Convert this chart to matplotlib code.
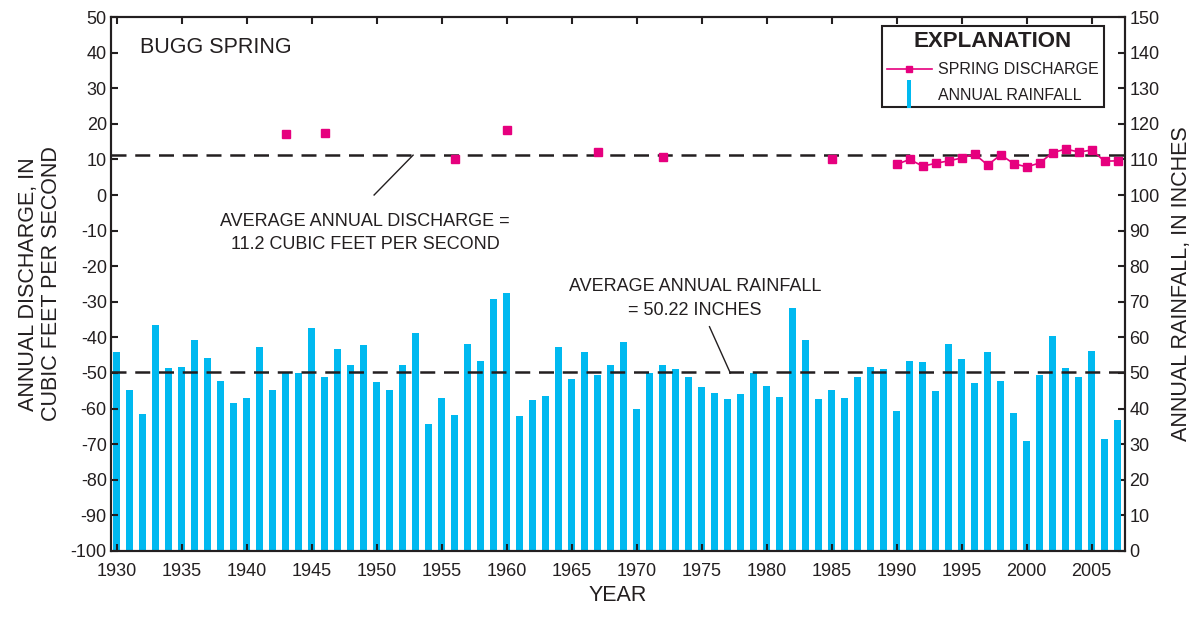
import matplotlib
matplotlib.use("Agg")
import matplotlib.pyplot as plt
from matplotlib.lines import Line2D
import numpy as np

plt.rcParams["font.family"] = ["Liberation Sans", "DejaVu Sans"]
plt.rcParams["axes.unicode_minus"] = False

# annual rainfall, inches (1930-2007)
years = list(range(1930, 2008))
rainfall = [
    55.9, 45.2, 38.5, 63.5, 51.4, 51.7, 59.3, 54.2, 47.8, 41.6,
    43.0, 57.3, 45.2, 49.9, 49.9, 62.6, 48.9, 56.7, 52.2, 57.9,
    47.5, 45.2, 52.2, 61.2, 35.7, 43.0, 38.2, 58.1, 53.4, 70.8,
    72.5, 37.9, 42.4, 43.5, 57.3, 48.3, 55.9, 49.4, 52.2, 58.7,
    39.9, 49.9, 52.2, 51.1, 48.9, 46.1, 44.4, 42.7, 44.1, 50.0,
    46.4, 43.3, 68.3, 59.3, 42.7, 45.2, 43.0, 48.9, 51.7, 51.1,
    39.3, 53.4, 53.1, 44.9, 58.1, 53.9, 47.2, 55.9, 47.8, 38.8,
    30.9, 49.4, 60.4, 51.4, 48.9, 56.2, 31.5, 36.8,
]

# isolated discharge measurements, cubic feet per second
spot_years = [1943, 1946, 1956, 1960, 1967, 1972, 1985]
spot_discharge = [17.0, 17.3, 10.1, 18.4, 12.2, 10.6, 10.1]

# continuous discharge record
cont_years = list(range(1990, 2008))
cont_discharge = [8.6, 10.0, 8.1, 8.9, 9.6, 10.4, 11.5, 8.4, 11.3, 8.8,
                  7.9, 9.0, 11.9, 12.9, 12.1, 12.6, 9.5, 9.6]

avg_discharge = 11.2
avg_rainfall = 50.22

BG = "#FFFBE0"
CYAN = "#00B9F0"
MAGENTA = "#E6007E"
INK = "#231F20"

fig = plt.figure(figsize=(12.01, 6.19), dpi=100)
ax = fig.add_axes([0.0924, 0.1099, 0.8443, 0.8626])
ax2 = ax.twinx()

ax2.set_zorder(1)
ax.set_zorder(2)
ax.patch.set_visible(False)
ax2.patch.set_facecolor(BG)

# rainfall bars
ax2.bar(years, rainfall, width=0.55, color=CYAN, zorder=2)
ax2.axhline(avg_rainfall, color=INK, lw=1.8, ls=(0, (6, 3.5)), zorder=3)
ax2.set_ylim(0, 150)
ax2.set_yticks(np.arange(0, 151, 10))

# discharge
ax.plot(spot_years, spot_discharge, ls="none", marker="s", ms=5.5,
        color=MAGENTA, zorder=4)
ax.plot(cont_years, cont_discharge, color=MAGENTA, lw=1.2, marker="s",
        ms=5.5, zorder=4)
ax.axhline(avg_discharge, color=INK, lw=1.8, ls=(0, (6, 3.5)), zorder=3)

ax.set_xlim(1929.56, 2007.56)
ax.set_ylim(-100, 50)
ax.set_yticks(np.arange(-100, 51, 10))
ax.set_xticks(np.arange(1930, 2006, 5))

for a in (ax, ax2):
    for s in a.spines.values():
        s.set_linewidth(1.5)
        s.set_color(INK)
    a.tick_params(direction="in", length=5, width=1.5, colors=INK,
                  labelsize=13, top=True, pad=3)
ax.tick_params(axis="x", pad=9)

ax.set_xlabel("YEAR", fontsize=15.5, color=INK, labelpad=3)
ax.set_ylabel("ANNUAL DISCHARGE, IN\nCUBIC FEET PER SECOND", fontsize=15.5,
              color=INK, labelpad=6, linespacing=1.15)
ax2.set_ylabel("ANNUAL RAINFALL, IN INCHES", fontsize=15.5, color=INK,
               labelpad=8)

ax.text(1931.8, 41.3, "BUGG SPRING", fontsize=15.5, color=INK, va="center")

# annotations
ax.plot([1952.8, 1949.8], [11.2, 0.0], color=INK, lw=1.0, zorder=3)
ax.text(1949.1, -10.7, "AVERAGE ANNUAL DISCHARGE =\n11.2 CUBIC FEET PER SECOND",
        fontsize=13, color=INK, ha="center", va="center", linespacing=1.5)
ax.plot([1975.6, 1977.2], [-37.0, -50.0], color=INK, lw=1.0, zorder=3)
ax.text(1974.5, -29.1, "AVERAGE ANNUAL RAINFALL\n= 50.22 INCHES",
        fontsize=13, color=INK, ha="center", va="center", linespacing=1.5)

# legend
bar_marker = [(-0.16, -1), (0.16, -1), (0.16, 1), (-0.16, 1), (-0.16, -1)]
handles = [
    Line2D([], [], color=MAGENTA, lw=1.2, marker="s", ms=5),
    Line2D([], [], ls="none", marker=bar_marker, ms=20, color=CYAN,
           markeredgewidth=0),
]
leg = ax.legend(handles, ["SPRING DISCHARGE", "ANNUAL RAINFALL"],
                loc="upper right", bbox_to_anchor=(0.979, 0.983),
                title="EXPLANATION", fontsize=11.5, fancybox=False,
                framealpha=1, edgecolor=INK, handlelength=2.8,
                borderpad=0.3, labelspacing=0.65, handletextpad=0.4,
                borderaxespad=0)
leg.get_title().set_fontweight("bold")
leg.get_title().set_fontsize(16)
leg.get_title().set_color(INK)
leg.get_frame().set_linewidth(1.5)
for t in leg.get_texts():
    t.set_color(INK)

fig.savefig("out.png", dpi=100)
